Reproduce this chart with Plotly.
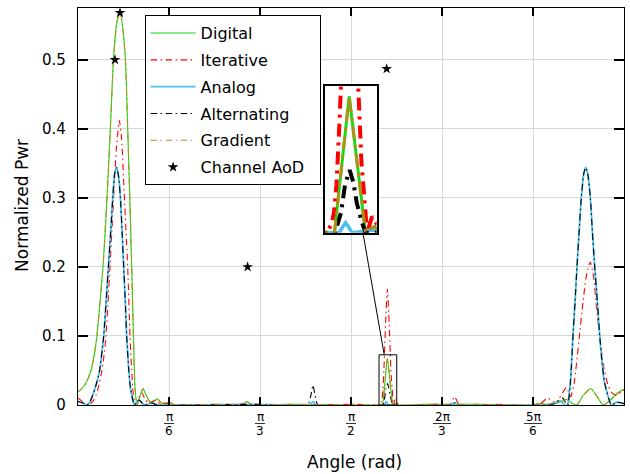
import math
import plotly.graph_objects as go

PI = math.pi

# ---------------- data ----------------
digital_angle = [0.000, 0.027, 0.050, 0.075, 0.093, 0.109, 0.127, 0.144, 0.156, 0.167,
                 0.186, 0.204, 0.223, 0.242, 0.258, 0.273, 0.286, 0.298, 0.309, 0.319,
                 0.328, 0.340, 0.357, 0.374, 0.392, 0.422, 0.440, 0.457, 0.475, 0.487,
                 0.510, 0.528, 0.548, 0.600, 0.800, 0.940, 0.972, 1.000, 1.200, 1.600,
                 1.740, 1.751, 1.780, 1.812, 1.822, 1.830, 1.845, 2.000, 2.300, 2.600,
                 2.655, 2.714, 2.771, 2.810, 2.840, 2.871, 2.904, 2.950, 2.985, 3.021,
                 3.059, 3.094, 3.127, 3.1416]
digital_pwr = [0.019, 0.025, 0.034, 0.050, 0.072, 0.100, 0.150, 0.200, 0.250, 0.300,
               0.400, 0.500, 0.553, 0.571, 0.545, 0.500, 0.400, 0.300, 0.200, 0.100,
               0.025, 0.000, 0.013, 0.024, 0.014, 0.002, 0.006, 0.009, 0.004, 0.001,
               0.003, 0.004, 0.001, 0.000, 0.001, 0.000, 0.005, 0.000, 0.001, 0.000,
               0.000, 0.000, 0.0675, 0.000, 0.002, 0.003, 0.000, 0.001, 0.001, 0.000,
               0.002, 0.001, 0.004, 0.008, 0.003, 0.000, 0.013, 0.024, 0.013, 0.000,
               0.006, 0.015, 0.021, 0.023]

iterative_angle = [0.000, 0.021, 0.046, 0.071, 0.090, 0.104, 0.120, 0.136, 0.150, 0.161,
                   0.173, 0.184, 0.205, 0.220, 0.238, 0.251, 0.267, 0.286, 0.299, 0.315,
                   0.328, 0.345, 0.366, 0.385, 0.407, 0.427, 0.447, 0.470, 0.500, 0.560,
                   0.900, 1.300, 1.600, 1.735, 1.745, 1.750, 1.755, 1.760, 1.765, 1.770,
                   1.780, 1.790, 1.793, 1.797, 1.800, 1.804, 1.808, 1.812, 1.815, 1.825,
                   1.834, 1.845, 2.100, 2.140, 2.167, 2.195, 2.400, 2.650, 2.703, 2.749,
                   2.810, 2.835, 2.855, 2.885, 2.906, 2.927, 2.948, 2.967, 2.984, 3.001,
                   3.025, 3.048, 3.071, 3.100, 3.127, 3.1416]
iterative_pwr = [0.010, 0.006, 0.000, 0.002, 0.007, 0.0145, 0.028, 0.048, 0.072, 0.100,
                 0.150, 0.200, 0.300, 0.370, 0.412, 0.385, 0.300, 0.200, 0.100, 0.024,
                 0.000, 0.008, 0.018, 0.009, 0.002, 0.005, 0.007, 0.002, 0.003, 0.000,
                 0.001, 0.000, 0.001, 0.000, 0.004, 0.010, 0.024, 0.050, 0.085, 0.120,
                 0.168, 0.120, 0.100, 0.075, 0.052, 0.035, 0.023, 0.007, 0.000, 0.008,
                 0.004, 0.000, 0.001, 0.000, 0.012, 0.000, 0.001, 0.000, 0.010, 0.003,
                 0.025, 0.012, 0.032, 0.100, 0.150, 0.190, 0.207, 0.185, 0.140, 0.100,
                 0.055, 0.030, 0.018, 0.014, 0.020, 0.022]

analog_angle = [0.000, 0.027, 0.052, 0.068, 0.085, 0.105, 0.123, 0.148, 0.162, 0.175,
                0.188, 0.200, 0.211, 0.223, 0.234, 0.244, 0.254, 0.263, 0.272, 0.280,
                0.291, 0.302, 0.325, 0.339, 0.353, 0.368, 0.384, 0.424, 0.459, 0.700,
                1.000, 1.330, 1.352, 1.372, 1.760, 1.773, 1.786, 2.140, 2.167, 2.195,
                2.700, 2.740, 2.777, 2.800, 2.816, 2.833, 2.848, 2.860, 2.871, 2.883,
                2.896, 2.910, 2.921, 2.933, 2.948, 2.960, 2.973, 2.988, 3.002, 3.016,
                3.030, 3.069, 3.100, 3.127, 3.1416]
analog_pwr = [0.005, 0.003, 0.000, 0.004, 0.0145, 0.030, 0.048, 0.100, 0.150, 0.200,
              0.250, 0.300, 0.335, 0.344, 0.330, 0.300, 0.250, 0.200, 0.150, 0.100,
              0.055, 0.024, 0.000, 0.005, 0.007, 0.003, 0.000, 0.003, 0.000, 0.000,
              0.001, 0.000, 0.005, 0.000, 0.000, 0.005, 0.000, 0.000, 0.003, 0.000,
              0.000, 0.003, 0.006, 0.000, 0.000, 0.032, 0.100, 0.150, 0.200, 0.250,
              0.300, 0.335, 0.344, 0.335, 0.300, 0.250, 0.200, 0.150, 0.100, 0.060,
              0.032, 0.000, 0.004, 0.003, 0.002]

alternating_angle = [0.000, 0.027, 0.052, 0.068, 0.085, 0.105, 0.123, 0.148, 0.162, 0.175,
                     0.188, 0.200, 0.211, 0.223, 0.234, 0.244, 0.254, 0.263, 0.272, 0.280,
                     0.291, 0.302, 0.325, 0.340, 0.354, 0.368, 0.384, 0.424, 0.459, 0.700,
                     1.000, 1.320, 1.340, 1.352, 1.364, 1.380, 1.752, 1.764, 1.772, 1.781,
                     1.788, 1.795, 1.804, 1.812, 2.140, 2.167, 2.195, 2.700, 2.740, 2.790,
                     2.810, 2.818, 2.833, 2.848, 2.860, 2.871, 2.883, 2.896, 2.910, 2.921,
                     2.933, 2.948, 2.960, 2.973, 2.988, 3.002, 3.016, 3.030, 3.069, 3.100,
                     3.127, 3.1416]
alternating_pwr = [0.005, 0.003, 0.000, 0.004, 0.0145, 0.030, 0.048, 0.100, 0.150, 0.200,
                   0.250, 0.300, 0.335, 0.344, 0.330, 0.300, 0.250, 0.200, 0.150, 0.100,
                   0.055, 0.024, 0.000, 0.006, 0.007, 0.003, 0.000, 0.003, 0.000, 0.000,
                   0.001, 0.000, 0.014, 0.029, 0.014, 0.000, 0.000, 0.010, 0.024, 0.031,
                   0.025, 0.0146, 0.006, 0.000, 0.000, 0.003, 0.000, 0.000, 0.002, 0.010,
                   0.001, 0.000, 0.032, 0.100, 0.150, 0.200, 0.250, 0.300, 0.335, 0.344,
                   0.335, 0.300, 0.250, 0.200, 0.150, 0.100, 0.060, 0.032, 0.000, 0.004,
                   0.003, 0.002]

# the gradient result lies on top of the digital one in the picture
gradient_angle = list(digital_angle)
gradient_pwr = list(digital_pwr)

aod_angle = [0.2129, 0.2417, 0.976, 1.776]
aod_pwr = [0.500, 0.568, 0.200, 0.487]

xtick_vals = [PI / 6, PI / 3, PI / 2, 2 * PI / 3, 5 * PI / 6]
xtick_num = ["π", "π", "π", "2π", "5π"]
xtick_den = ["6", "3", "2", "3", "6"]
ytick_vals = [0, 0.1, 0.2, 0.3, 0.4, 0.5]
ytick_text = ["0", "0.1", "0.2", "0.3", "0.4", "0.5"]

# ---------------- layout constants ----------------
X_RANGE = [0, PI]
Y_RANGE = [0, 0.575]
ZOOM_X = [1.732, 1.834]
ZOOM_Y = [0, 0.0727]
INSET_XDOM = [0.452, 0.547]
INSET_YDOM = [0.434, 0.804]
FONT = "DejaVu Sans"

series = [
    dict(name="Digital", x=digital_angle, y=digital_pwr, color="rgb(20,220,20)",
         width=1.1, dash="solid", iw=3, idash="solid"),
    dict(name="Iterative", x=iterative_angle, y=iterative_pwr, color="rgb(255,0,0)",
         width=1.1, dash="6.5px,3.5px,1.5px,3.5px", iw=4, idash="13px,6px,3px,6px"),
    dict(name="Analog", x=analog_angle, y=analog_pwr, color="rgb(77,190,238)",
         width=1.8, dash="solid", iw=3.5, idash="solid"),
    dict(name="Alternating", x=alternating_angle, y=alternating_pwr, color="rgb(0,0,0)",
         width=1.1, dash="6.5px,3.5px,1.5px,3.5px", iw=4, idash="13px,6px,3px,6px"),
    dict(name="Gradient", x=gradient_angle, y=gradient_pwr, color="rgb(175,145,20)",
         width=1.1, dash="6.5px,3.5px,1.5px,3.5px", iw=3, idash="13px,6px,3px,6px"),
]

fig = go.Figure()

for s in series:
    fig.add_trace(go.Scatter(
        x=s["x"], y=s["y"], name=s["name"], mode="lines", legendgroup=s["name"],
        line=dict(color=s["color"], width=s["width"], dash=s["dash"],
                  shape="spline", smoothing=0.5),
        xaxis="x", yaxis="y", cliponaxis=True))

fig.add_trace(go.Scatter(
    x=aod_angle, y=aod_pwr, name="Channel AoD\u00a0\u00a0", mode="markers",
    legendgroup="aod",
    marker=dict(symbol="star", size=8, color="black", line=dict(width=0)),
    xaxis="x", yaxis="y"))

for s in series:
    fig.add_trace(go.Scatter(
        x=s["x"], y=s["y"], name=s["name"], mode="lines", showlegend=False,
        line=dict(color=s["color"], width=s["iw"], dash=s["idash"]),
        xaxis="x2", yaxis="y2"))

# zoom window rectangle and connector
shapes = [
    dict(type="rect", xref="x", yref="y", x0=ZOOM_X[0], x1=ZOOM_X[1],
         y0=ZOOM_Y[0], y1=ZOOM_Y[1], line=dict(color="black", width=1), layer="above"),
]
inset_px = INSET_XDOM[0] + 0.735 * (INSET_XDOM[1] - INSET_XDOM[0])
shapes.append(dict(
    type="line", xref="x", yref="y",
    x0=ZOOM_X[0] + 0.294 * (ZOOM_X[1] - ZOOM_X[0]), y0=ZOOM_Y[1],
    x1=X_RANGE[0] + inset_px * (X_RANGE[1] - X_RANGE[0]),
    y1=Y_RANGE[0] + INSET_YDOM[0] * (Y_RANGE[1] - Y_RANGE[0]),
    line=dict(color="black", width=1), layer="above"))

# fraction bars under the x tick labels
annotations = []
for v, num, den in zip(xtick_vals, xtick_num, xtick_den):
    w = 10 if len(num) == 1 else 18
    shapes.append(dict(type="line", xref="x", yref="paper", xsizemode="pixel",
                       ysizemode="pixel", xanchor=v, yanchor=0,
                       x0=-w / 2, x1=w / 2, y0=-18.5, y1=-18.5,
                       line=dict(color="black", width=0.8)))
    annotations.append(dict(x=v, y=0, xref="x", yref="paper", text=num,
                            showarrow=False, yshift=-12, yanchor="middle",
                            font=dict(family=FONT, size=12, color="black")))
    annotations.append(dict(x=v, y=0, xref="x", yref="paper", text=den,
                            showarrow=False, yshift=-25.5, yanchor="middle",
                            font=dict(family=FONT, size=12, color="black")))

annotations.append(dict(x=0.507, y=0, xref="paper", yref="paper", text="Angle (rad)",
                        showarrow=False, yshift=-57, yanchor="middle",
                        font=dict(family=FONT, size=17, color="black")))
annotations.append(dict(x=-0.1026, y=0.504, xref="paper", yref="paper",
                        text="Normalized Pwr", textangle=-90, showarrow=False,
                        xanchor="center", yanchor="middle",
                        font=dict(family=FONT, size=17, color="black")))

fig.update_layout(
    width=630, height=474,
    margin=dict(l=78, r=6, t=8, b=69),
    paper_bgcolor="white", plot_bgcolor="white",
    font=dict(family=FONT, size=15, color="black"),
    showlegend=True,
    legend=dict(x=0.122, y=0.982, xanchor="left", yanchor="top",
                bgcolor="white", bordercolor="black", borderwidth=1,
                font=dict(family=FONT, size=16, color="black"),
                traceorder="grouped", tracegroupgap=3, itemwidth=45),
    xaxis=dict(range=X_RANGE, tickvals=xtick_vals, showticklabels=False,
               ticks="inside", ticklen=8, tickwidth=2, tickcolor="black",
               showline=True, linecolor="black", linewidth=1.3, mirror="ticks",
               showgrid=True, gridcolor="rgb(215,215,215)", gridwidth=1,
               zeroline=False, domain=[0, 1]),
    yaxis=dict(range=Y_RANGE, tickvals=ytick_vals, ticktext=ytick_text,
               ticks="inside", ticklen=10, tickwidth=2, tickcolor="black",
               showline=True, linecolor="black", linewidth=1.3, mirror="ticks",
               showgrid=True, gridcolor="rgb(215,215,215)", gridwidth=1,
               zeroline=False, ticklabelstandoff=8,
               tickfont=dict(family=FONT, size=15, color="black"), domain=[0, 1]),
    xaxis2=dict(domain=INSET_XDOM, range=ZOOM_X, anchor="y2", showticklabels=False,
                ticks="", showgrid=False, zeroline=False, showline=True,
                linecolor="black", linewidth=2, mirror=True),
    yaxis2=dict(domain=INSET_YDOM, range=ZOOM_Y, anchor="x2", showticklabels=False,
                ticks="", showgrid=False, zeroline=False, showline=True,
                linecolor="black", linewidth=2, mirror=True),
    shapes=shapes,
    annotations=annotations,
)

fig.write_html("out.html", config={"displayModeBar": False},
               post_script="document.body.style.margin='0';document.body.style.overflow='hidden';")
